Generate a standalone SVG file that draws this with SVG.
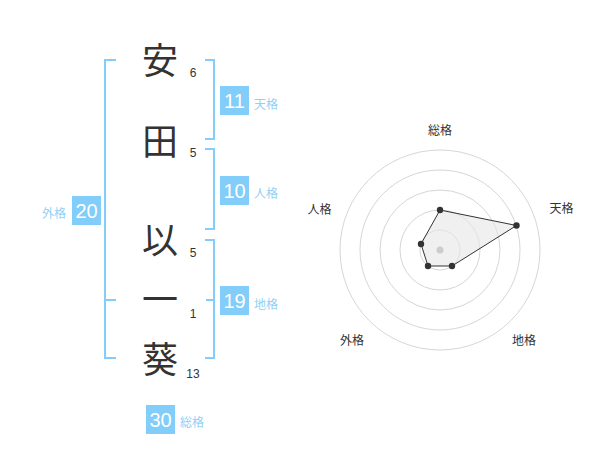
<svg xmlns="http://www.w3.org/2000/svg" width="600" height="470" viewBox="0 0 600 470">
<style>
.kanji{font-family:"Noto Sans CJK JP","Noto Sans CJK SC",sans-serif;font-size:36px;fill:#333;text-anchor:middle}
.stroke{font-family:"Liberation Sans",Arial,sans-serif;font-size:12px;fill:#333;text-anchor:middle}
.box{fill:#82cdf9}
.boxnum{font-family:"Liberation Sans",Arial,sans-serif;font-size:20px;fill:#fff;text-anchor:middle}
.lbl{font-family:"Noto Sans CJK JP","Noto Sans CJK SC",sans-serif;font-size:12px;fill:#8fd0f8}
.br{fill:none;stroke:#82cdf9;stroke-width:2}
.ring{fill:none;stroke:#d6d6d6;stroke-width:1}
.rl{font-family:"Noto Sans CJK JP","Noto Sans CJK SC",sans-serif;font-size:12px;fill:#333;text-anchor:middle}
.pt{fill:#333}
</style>
<rect width="600" height="470" fill="#fff"/>
<g id="connectors">
<path class="br" d="M116,60 H105 V358 H116 M105,300 H116"/>
<path class="br" d="M205,60 H214 V139 H205"/>
<path class="br" d="M205,149 H214 V229 H205"/>
<path class="br" d="M205,240 H214 V358 H205 M206,300 H214"/>
</g>
<g id="char-an"><text class="kanji" x="160" y="73.5">安</text><text class="stroke" x="193" y="77">6</text></g>
<g id="char-ta"><text class="kanji" x="160" y="154.7">田</text><text class="stroke" x="193" y="157">5</text></g>
<g id="char-i"><text class="kanji" x="160" y="253.7">以</text><text class="stroke" x="193" y="257">5</text></g>
<g id="char-ichi"><text class="kanji" x="160" y="312.5">一</text><text class="stroke" x="193" y="318">1</text></g>
<g id="char-aoi"><text class="kanji" x="160" y="373.4">葵</text><text class="stroke" x="193" y="377.5">13</text></g>
<g id="tenkaku"><rect class="box" x="220" y="86" width="29" height="29"/><text class="boxnum" x="234.5" y="107.7">11</text><text class="lbl" x="254" y="108.6">天格</text></g>
<g id="jinkaku"><rect class="box" x="220" y="176" width="29" height="29"/><text class="boxnum" x="234.5" y="197.7">10</text><text class="lbl" x="254" y="198">人格</text></g>
<g id="chikaku"><rect class="box" x="220" y="286" width="29" height="29"/><text class="boxnum" x="234.5" y="307.7">19</text><text class="lbl" x="254" y="308.6">地格</text></g>
<g id="gaikaku"><rect class="box" x="72" y="196" width="29" height="29"/><text class="boxnum" x="86.5" y="217.7">20</text><text class="lbl" x="66" y="217.6" text-anchor="end">外格</text></g>
<g id="soukaku"><rect class="box" x="146" y="405" width="29" height="29"/><text class="boxnum" x="160.5" y="426.7">30</text><text class="lbl" x="180" y="427.3">総格</text></g>
<g id="radar">
<circle class="ring" cx="440" cy="250" r="20"/>
<circle class="ring" cx="440" cy="250" r="40"/>
<circle class="ring" cx="440" cy="250" r="60"/>
<circle class="ring" cx="440" cy="250" r="80"/>
<circle class="ring" cx="440" cy="250" r="100"/>
<polygon points="440,210 516.5,225.5 452,266 428,266 421,244" fill="#e6e6e6" fill-opacity="0.6" stroke="#333" stroke-width="1"/>
<circle cx="440" cy="250" r="3.5" fill="#ccc"/>
<circle class="pt" cx="440" cy="210" r="3.2"/>
<circle class="pt" cx="516.5" cy="225.5" r="3.2"/>
<circle class="pt" cx="452" cy="266" r="3.2"/>
<circle class="pt" cx="428" cy="266" r="3.2"/>
<circle class="pt" cx="421" cy="244" r="3.2"/>
<text class="rl" x="440" y="135.3">総格</text>
<text class="rl" x="561.5" y="213">天格</text>
<text class="rl" x="524" y="344.6">地格</text>
<text class="rl" x="352" y="344.6">外格</text>
<text class="rl" x="319.5" y="213.6">人格</text>
</g>
</svg>
